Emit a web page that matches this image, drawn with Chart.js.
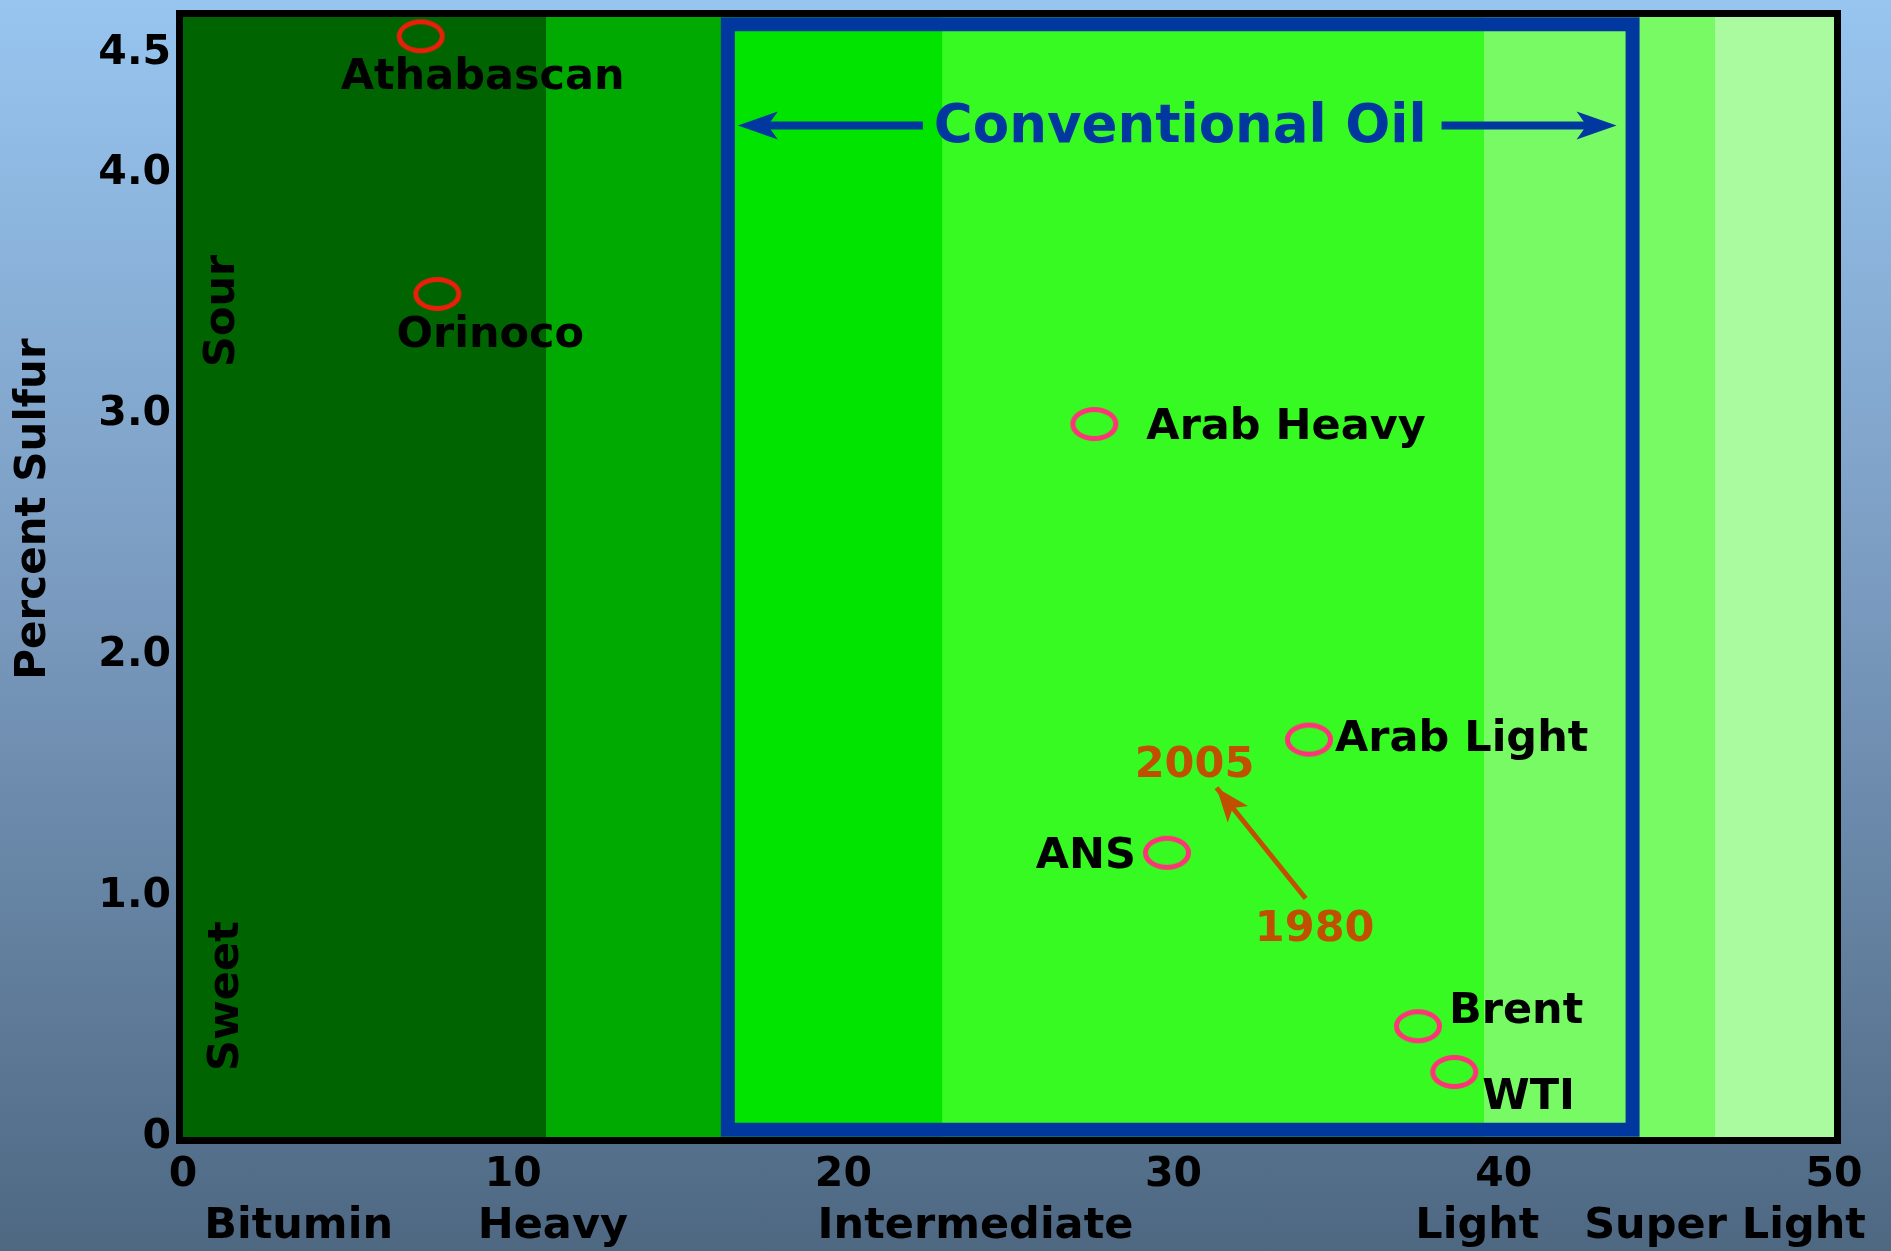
<!DOCTYPE html>
<html>
<head>
<meta charset="utf-8">
<script src="https://cdn.jsdelivr.net/npm/chart.js@4.4.0/dist/chart.umd.min.js"></script>
<style>
  html, body { margin: 0; padding: 0; }
  body {
    width: 1891px; height: 1251px; overflow: hidden;
    background: linear-gradient(to bottom, #97c5ef 0%, #7c9dc2 45%, #4e6882 100%);
  }
  #wrap { position: relative; width: 1891px; height: 1251px; }
</style>
</head>
<body>
<div id="wrap"><canvas id="chart"></canvas></div>
<script>
// crude oil quality: API gravity against percent sulfur
const crudes = ['Athabascan', 'Orinoco', 'Arab Heavy', 'Arab Light', 'ANS', 'Brent', 'WTI'];
const apiGravity = [7.2, 7.7, 27.6, 34.1, 29.8, 37.4, 38.5];
const sulfurPct = [4.57, 3.50, 2.96, 1.65, 1.18, 0.46, 0.27];
const unconventional = ['Athabascan', 'Orinoco'];

// gravity bands behind the points
const bandEdges = [0, 11, 16.3, 23, 39.4, 46.4, 50];
const bandColors = ['#006400', '#00aa00', '#00e400', '#37fa23', '#78fa64', '#aafaa0'];

const gradeNames = ['Bitumin', 'Heavy', 'Intermediate', 'Light', 'Super Light'];
const gradeAt = [3.5, 11.2, 24.0, 39.2, 46.7];

const xTicks = [0, 10, 20, 30, 40, 50];
const yTicks = [0, 1, 2, 3, 4, 4.5];

// conventional oil window (API gravity)
const conventional = [16.5, 43.9];

// 1980 -> 2005 drift of the average crude
const trendYears = ['1980', '2005'];
const trendX = [34.0, 31.3];
const trendY = [0.99, 1.45];

const Y_MAX = 4.65;
const FONT = 'DejaVu Sans';
const BLUE = '#0038a0';
const BROWN = '#c05000';

// label placement next to each ring, in pixels
const labelOffsets = {
  'Athabascan': [62, 42, 'center'],
  'Orinoco': [53, 42, 'center'],
  'Arab Heavy': [52, 4, 'left'],
  'Arab Light': [26, 0, 'left'],
  'ANS': [-31, 4, 'right'],
  'Brent': [31, -14, 'left'],
  'WTI': [28, 26, 'left']
};

function ring(color) {
  const c = document.createElement('canvas');
  c.width = 56; c.height = 42;
  const g = c.getContext('2d');
  g.strokeStyle = color;
  g.lineWidth = 5;
  g.beginPath();
  g.ellipse(28, 21, 21.5, 14.5, 0, 0, Math.PI * 2);
  g.stroke();
  return c;
}

function arrowHead(ctx, tx, ty, ang, len, half, notch) {
  ctx.save();
  ctx.translate(tx, ty);
  ctx.rotate(ang);
  ctx.beginPath();
  ctx.moveTo(0, 0);
  ctx.lineTo(-len, -half);
  ctx.lineTo(-len + notch, 0);
  ctx.lineTo(-len, half);
  ctx.closePath();
  ctx.fill();
  ctx.restore();
}

const pts = crudes.map((n, i) => ({ x: apiGravity[i], y: sulfurPct[i], name: n }));

const datasets = [];
datasets.push({
  label: 'unconventional',
  data: pts.filter(p => unconventional.includes(p.name)),
  pointStyle: ring('#e8200a'),
  order: 0
});
datasets.push({
  label: 'conventional',
  data: pts.filter(p => !unconventional.includes(p.name)),
  pointStyle: ring('#ff3377'),
  order: 0
});
datasets.push({
  label: 'trend',
  data: trendX.map((x, i) => ({ x: x, y: trendY[i] })),
  showLine: true,
  borderColor: BROWN,
  borderWidth: 5,
  pointRadius: 0,
  order: 1
});
// the blue frame round conventional oil, path starts mid-edge so every corner is joined
const inset = 0.03;
const boxMid = (conventional[0] + conventional[1]) / 2;
datasets.push({
  label: 'box',
  data: [
    { x: boxMid, y: inset },
    { x: conventional[0], y: inset },
    { x: conventional[0], y: Y_MAX - inset },
    { x: conventional[1], y: Y_MAX - inset },
    { x: conventional[1], y: inset },
    { x: boxMid, y: inset }
  ],
  showLine: true,
  borderColor: BLUE,
  borderWidth: 14,
  borderJoinStyle: 'miter',
  pointRadius: 0,
  order: 2
});
// each band is filled from the left edge; the lower bands sit on top, so no seams show
bandColors.forEach((c, i) => {
  datasets.push({
    label: 'band' + i,
    data: [{ x: bandEdges[0], y: Y_MAX }, { x: bandEdges[i + 1], y: Y_MAX }],
    showLine: true,
    fill: 'origin',
    backgroundColor: c,
    borderWidth: 0,
    pointRadius: 0,
    order: 3
  });
});

const decorations = {
  id: 'decorations',
  afterDatasetsDraw(chart) {
    const ctx = chart.ctx;
    const a = chart.chartArea;
    const xs = chart.scales.x, ys = chart.scales.y;

    // heavy black frame
    ctx.save();
    ctx.strokeStyle = '#000';
    ctx.lineWidth = 7;
    ctx.strokeRect(a.left - 3.5, a.top - 3.5, a.right - a.left + 7, a.bottom - a.top + 7);

    // Conventional Oil banner
    const bl = xs.getPixelForValue(conventional[0]) + 7;
    const br = xs.getPixelForValue(conventional[1]) - 7;
    const by = ys.getPixelForValue(4.2);
    ctx.font = 'bold 53px ' + FONT;
    ctx.fillStyle = BLUE;
    ctx.textAlign = 'center';
    ctx.textBaseline = 'middle';
    const tw = ctx.measureText('Conventional Oil').width;
    const mid = (bl + br) / 2;
    ctx.fillText('Conventional Oil', mid, by + 3);
    ctx.strokeStyle = BLUE;
    ctx.lineWidth = 8;
    ctx.beginPath();
    ctx.moveTo(bl + 20, by); ctx.lineTo(mid - tw / 2 - 11, by);
    ctx.moveTo(mid + tw / 2 + 15, by); ctx.lineTo(br - 25, by);
    ctx.stroke();
    arrowHead(ctx, bl + 3, by, Math.PI, 40, 14, 10);
    arrowHead(ctx, br - 9, by, 0, 40, 14, 10);

    // Sour / Sweet
    ctx.fillStyle = '#000';
    ctx.font = 'bold 43px ' + FONT;
    [['Sour', 1.21, 3.43], ['Sweet', 1.33, 0.585]].forEach(t => {
      ctx.save();
      ctx.translate(xs.getPixelForValue(t[1]), ys.getPixelForValue(t[2]));
      ctx.rotate(-Math.PI / 2);
      ctx.fillText(t[0], 0, 0);
      ctx.restore();
    });

    // axis title
    ctx.save();
    ctx.font = 'bold 42px ' + FONT;
    ctx.translate(34, 509);
    ctx.rotate(-Math.PI / 2);
    ctx.fillText('Percent Sulfur', 0, 0);
    ctx.restore();

    // crude names
    ctx.font = 'bold 43px ' + FONT;
    pts.forEach(p => {
      const o = labelOffsets[p.name];
      ctx.textAlign = o[2];
      ctx.fillText(p.name, xs.getPixelForValue(p.x) + o[0], ys.getPixelForValue(p.y) + o[1]);
    });

    // trend arrow head and years
    const tx0 = xs.getPixelForValue(trendX[0]), ty0 = ys.getPixelForValue(trendY[0]);
    const tx1 = xs.getPixelForValue(trendX[1]), ty1 = ys.getPixelForValue(trendY[1]);
    ctx.fillStyle = BROWN;
    arrowHead(ctx, tx1, ty1, Math.atan2(ty1 - ty0, tx1 - tx0), 34, 13, 8);
    ctx.textAlign = 'center';
    ctx.fillText(trendYears[0], tx0 + 9, ty0 + 31);
    ctx.fillText(trendYears[1], tx1 - 22, ty1 - 22);
    ctx.restore();
  }
};

const tickFont = { family: FONT, weight: 'bold', size: 41 };

new Chart(document.getElementById('chart'), {
  type: 'scatter',
  data: { datasets: datasets },
  options: {
    responsive: true,
    maintainAspectRatio: false,
    animation: false,
    layout: { padding: { top: 17, right: 57, left: 0, bottom: 0 } },
    plugins: { legend: { display: false }, tooltip: { enabled: false } },
    scales: {
      x: {
        type: 'linear', position: 'bottom', min: 0, max: 50, weight: 0,
        grid: { display: false, drawTicks: false },
        border: { display: false },
        afterBuildTicks: s => { s.ticks = xTicks.map(v => ({ value: v })); },
        afterFit: s => { s.height = 62; s.paddingLeft = 0; s.paddingRight = 0; },
        ticks: { padding: 14, color: '#000', font: tickFont, maxRotation: 0, autoSkip: false,
                 callback: v => String(v) }
      },
      grade: {
        type: 'linear', position: 'bottom', min: 0, max: 50, weight: 1,
        grid: { display: false, drawTicks: false },
        border: { display: false },
        afterBuildTicks: s => { s.ticks = gradeAt.map(v => ({ value: v })); },
        afterFit: s => { s.height = 52; s.paddingLeft = 0; s.paddingRight = 0; },
        ticks: { padding: 2, color: '#000', font: { family: FONT, weight: 'bold', size: 43 },
                 maxRotation: 0, autoSkip: false, callback: (v, i) => gradeNames[i] }
      },
      y: {
        type: 'linear', position: 'left', min: 0, max: Y_MAX,
        grid: { display: false, drawTicks: false },
        border: { display: false },
        afterBuildTicks: s => { s.ticks = yTicks.map(v => ({ value: v })); },
        afterFit: s => { s.width = 183; s.paddingTop = 0; s.paddingBottom = 0; },
        ticks: { padding: 12, color: '#000', font: tickFont,
                 callback: v => v === 0 ? '0' : v.toFixed(1) }
      }
    }
  },
  plugins: [decorations]
});
</script>
</body>
</html>
